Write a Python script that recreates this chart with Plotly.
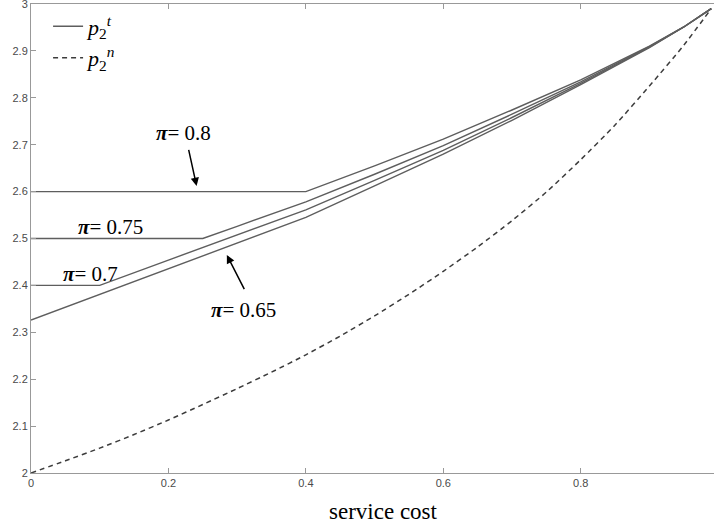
import plotly.graph_objects as go

# ---- data ----
x_p80 = [0.0, 0.4, 0.5, 0.6, 0.7, 0.8, 0.9, 0.95, 0.99]
y_p80 = [2.600, 2.600, 2.655, 2.712, 2.774, 2.838, 2.910, 2.951, 2.99]

x_p75 = [0.0, 0.25, 0.3, 0.4, 0.5, 0.6, 0.7, 0.8, 0.9, 0.95, 0.99]
y_p75 = [2.500, 2.500, 2.526, 2.578, 2.637, 2.698, 2.765, 2.834, 2.909, 2.951, 2.99]

x_p70 = [0.0, 0.1, 0.2, 0.3, 0.4, 0.5, 0.6, 0.7, 0.8, 0.9, 0.95, 0.99]
y_p70 = [2.400, 2.400, 2.454, 2.507, 2.561, 2.624, 2.688, 2.758, 2.831, 2.908, 2.951, 2.99]

x_p65 = [0.0, 0.1, 0.2, 0.3, 0.4, 0.5, 0.6, 0.7, 0.8, 0.9, 0.95, 0.99]
y_p65 = [2.326, 2.381, 2.435, 2.490, 2.545, 2.612, 2.680, 2.752, 2.828, 2.907, 2.951, 2.99]

x_pn = [0.0, 0.05, 0.1, 0.15, 0.2, 0.25, 0.3, 0.35, 0.4, 0.45, 0.5, 0.55,
        0.6, 0.65, 0.7, 0.75, 0.8, 0.85, 0.9, 0.95, 0.99]
y_pn = [2.000, 2.026, 2.053, 2.082, 2.113, 2.146, 2.180, 2.215, 2.252, 2.292,
        2.335, 2.381, 2.430, 2.482, 2.538, 2.599, 2.668, 2.742, 2.825, 2.912, 2.99]

x_ticks = [0, 0.2, 0.4, 0.6, 0.8]
y_ticks = [2, 2.1, 2.2, 2.3, 2.4, 2.5, 2.6, 2.7, 2.8, 2.9, 3]

# annotation labels: (text, x, y)
labels = [
    ("<b><i>π</i></b>= 0.8", 0.222, 2.724),
    ("<b><i>π</i></b>= 0.75", 0.115, 2.524),
    ("<b><i>π</i></b>= 0.7", 0.086, 2.4245),
    ("<b><i>π</i></b>= 0.65", 0.309, 2.348),
]
# arrows: (head x, head y, tail x, tail y)
arrows = [
    (0.241, 2.612, 0.229, 2.692),
    (0.285, 2.465, 0.3115, 2.389),
]

SOLID = "#5e5e5e"
DASH = "#3c3c3c"

fig = go.Figure()
solid_sets = [(x_p80, y_p80), (x_p75, y_p75), (x_p70, y_p70), (x_p65, y_p65)]
for i, (xs, ys) in enumerate(solid_sets):
    fig.add_trace(go.Scatter(
        x=xs, y=ys, mode="lines",
        line=dict(color=SOLID, width=1.4),
        name="<i>p</i><sub>2</sub><sup><i>t</i></sup>",
        legendgroup="t", showlegend=(i == 0), hoverinfo="skip"))

fig.add_trace(go.Scatter(
    x=x_pn, y=y_pn, mode="lines",
    line=dict(color=DASH, width=1.5, dash="5px,4px", shape="spline", smoothing=0.6),
    name="<i>p</i><sub>2</sub><sup><i>n</i></sup>", hoverinfo="skip"))

annotations = []
for text, ax_, ay_ in labels:
    annotations.append(dict(
        x=ax_, y=ay_, xref="x", yref="y", text=text, showarrow=False,
        font=dict(family="Liberation Serif, Times New Roman, serif", size=21, color="black"),
        xanchor="center", yanchor="middle"))
for hx, hy, tx, ty in arrows:
    annotations.append(dict(
        x=hx, y=hy, xref="x", yref="y", ax=tx, ay=ty, axref="x", ayref="y",
        text="", showarrow=True, arrowhead=2, arrowsize=1.1, arrowwidth=1.5,
        arrowcolor="black", standoff=0, startstandoff=0))
annotations.append(dict(
    x=0.513, y=-0.083, xref="x", yref="paper", text="service cost",
    showarrow=False, xanchor="center", yanchor="middle",
    font=dict(family="Liberation Serif, Times New Roman, serif", size=23, color="black")))

tickfont = dict(family="Liberation Sans Narrow, Liberation Sans, Arial, sans-serif", size=11, color="#4a4a4a")

fig.update_layout(
    width=714, height=527,
    margin=dict(l=31, r=0, t=4, b=54, autoexpand=False),
    paper_bgcolor="white", plot_bgcolor="white",
    showlegend=True,
    legend=dict(x=0.025, y=0.997, xanchor="left", yanchor="top",
                bgcolor="rgba(0,0,0,0)", borderwidth=0,
                font=dict(family="Liberation Serif, Times New Roman, serif", size=22, color="black"),
                tracegroupgap=0),
    annotations=annotations,
    xaxis=dict(range=[0, 0.994], tickmode="array", tickvals=x_ticks,
               ticks="inside", ticklen=5, tickcolor="#999999",
               showline=True, linecolor="#999999", linewidth=1, mirror="ticks",
               showgrid=False, zeroline=False, tickfont=tickfont, automargin=False),
    yaxis=dict(range=[2, 3], tickmode="array", tickvals=y_ticks,
               ticks="inside", ticklen=5, tickcolor="#999999",
               showline=True, linecolor="#999999", linewidth=1, mirror=False,
               showgrid=False, zeroline=False, tickfont=tickfont, automargin=False,
               ticklabeloverflow="allow"),
)

fig.write_html(
    "out.html",
    config={"displayModeBar": False},
    post_script="document.body.style.margin='0';document.body.style.overflow='hidden';",
)
